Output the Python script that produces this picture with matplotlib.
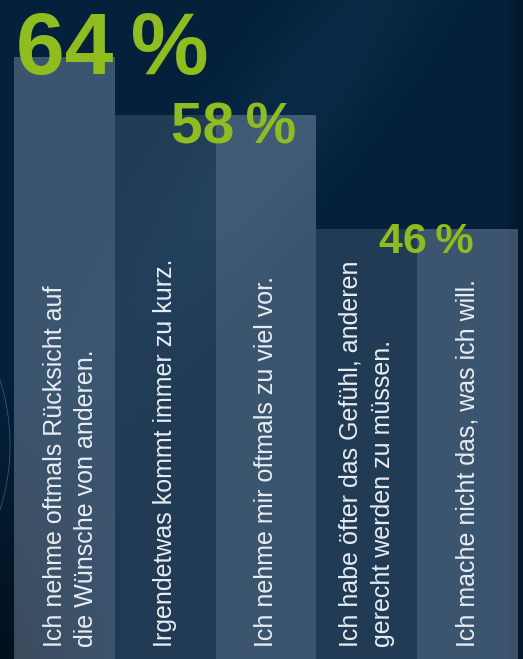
import numpy as np
import matplotlib
matplotlib.use("Agg")
import matplotlib.pyplot as plt
from matplotlib.patches import Arc

#============================================================
# data
#============================================================
statements = [
    "Ich nehme oftmals Rücksicht auf\ndie Wünsche von anderen.",
    "Irgendetwas kommt immer zu kurz.",
    "Ich nehme mir oftmals zu viel vor.",
    "Ich habe öfter das Gefühl, anderen\ngerecht werden zu müssen.",
    "Ich mache nicht das, was ich will.",
]
values = [64, 58, 58, 46, 46]
value_labels = ["64 %", "58 %", "", "46 %", ""]

#============================================================
# style
#============================================================
W, H = 523, 659
GREEN = "#8fbc1e"
TEXT = "#e6edf3"
BAR_RGB = (200 / 255, 215 / 255, 240 / 255)
bar_alpha = [0.29, 0.15, 0.29, 0.15, 0.29]
text_dx = [0.06, 0, 0, 0, 0]
label_size = [63, 41, 0, 31, 0]
label_dx = [0.47, 0.68, 0, 0.59, 0]
label_dy = [-1.7, -3.0, 0, -2.5, 0]

fig = plt.figure(figsize=(W / 100, H / 100), dpi=100)

# background: dark navy with a faint diagonal streak
bg = fig.add_axes([0, 0, 1, 1])
yy, xx = np.mgrid[0:H, 0:W]
base = np.array([4, 32, 58]) / 255
streak = np.exp(-(((xx - 300) * 0.8 + (yy - 100) * 0.6) ** 2) / (2 * 45 ** 2)
                - (((xx - 300) * -0.6 + (yy - 100) * 0.8) ** 2) / (2 * 200 ** 2))
dark = np.clip((yy - 380) / 280, 0, 1) * np.clip((120 - xx) / 120, 0, 1) * 0.5
dark += np.clip((xx - 505) / 18, 0, 1) * 0.3
img = base[None, None, :] + np.array([0.02, 0.04, 0.05])[None, None, :] * streak[..., None]
img = img * (1 - dark[..., None])
bg.imshow(np.clip(img, 0, 1), extent=(0, W, H, 0), aspect="auto")
bg.add_patch(Arc((-206, 445), 432, 432, theta1=-40, theta2=40,
                 color="#6f8fb0", lw=0.6, alpha=0.5))
bg.set_xlim(0, W)
bg.set_ylim(H, 0)
bg.axis("off")

# bars
ax = fig.add_axes([0, 0, 1, 1])
ax.patch.set_alpha(0)
x = np.arange(len(values))
for i, v in enumerate(values):
    ax.bar(x[i], v, width=1.0, color=BAR_RGB + (bar_alpha[i],),
           edgecolor="none")
ax.set_xlim(-0.639, 4.55)
ax.set_ylim(1.0, 70.0)
ax.axis("off")

for i, s in enumerate(statements):
    ax.text(x[i] + text_dx[i], 2.3, s, rotation=90, ha="center", va="bottom",
            multialignment="left", color=TEXT, fontsize=18,
            family="Liberation Sans", linespacing=1.4)

for i, lab in enumerate(value_labels):
    if not lab:
        continue
    ax.text(x[i] + label_dx[i], values[i] + label_dy[i], lab.replace(" ", "\u2009"),
            ha="center", va="baseline", color=GREEN, fontsize=label_size[i],
            fontweight="bold", family="Liberation Sans")

fig.savefig("out.png", dpi=100)
